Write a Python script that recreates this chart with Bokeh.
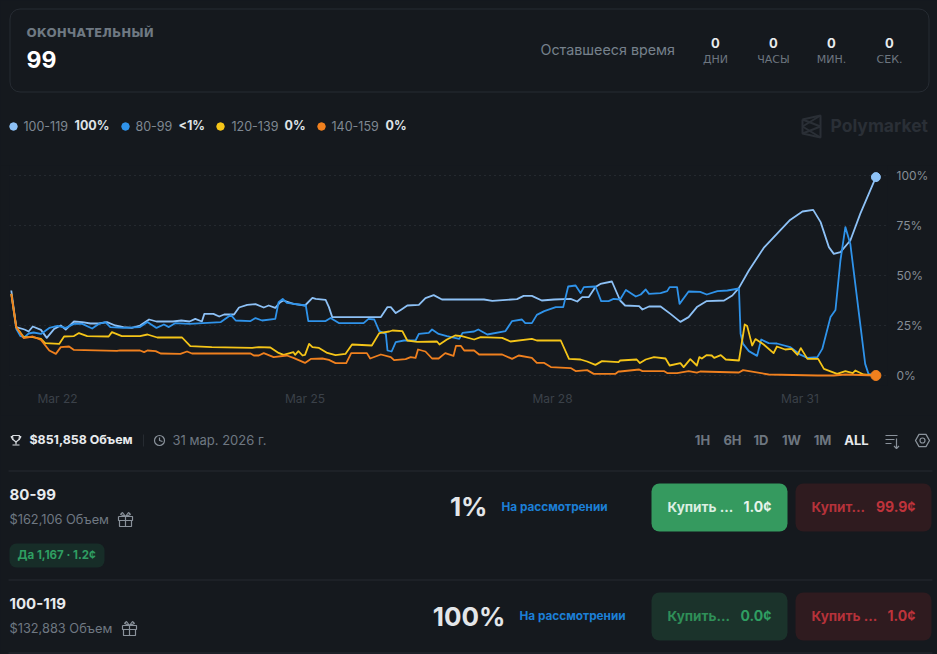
from bokeh.embed import file_html
from bokeh.resources import INLINE
from bokeh.plotting import figure
from bokeh.core.properties import value
from bokeh.models import Range1d, FixedTicker, DatetimeTickFormatter, LinearAxis, Grid, Column
import pandas as pd

# ---- data: fractional day of March 2026 / probability in % ----
x_100 = [21.44,21.50,21.60,21.65,21.70,21.80,21.87,21.96,22.04,22.10,22.20,22.30,22.40,22.50,22.60,22.70,22.80,22.90,23.00,23.11,23.20,23.40,23.50,23.60,23.67,23.75,23.78,23.89,23.96,24.02,24.14,24.20,24.30,24.40,24.50,24.56,24.64,24.70,24.74,24.86,25.00,25.09,
         25.13,25.25,25.29,25.33,25.59,25.92,26.00,26.04,26.10,26.16,26.24,26.38,26.46,26.56,26.66,27.17,27.27,27.57,27.65,27.75,27.87,28.02,28.22,28.30,28.36,28.44,28.52,28.58,28.72,28.82,
         28.88,29.05,29.09,29.17,29.31,29.43,29.55,29.65,29.75,29.87,30.08,30.18,30.26,30.38,30.56,30.72,30.88,31.03,31.16,31.25,31.35,31.41,31.49,31.61,31.73,31.92]
y_100 = [42.5,24.2,23,22,24.5,22.8,18.8,23.3,25,23,27,26.7,26,26,26.7,25,24.2,23.8,25,28,27,27,27.5,27,28.3,27,30.8,30.8,29.5,30.5,30.5,34,35.3,35.7,34,35,33.8,36.7,37.5,35.8,35,38.8,
         38.3,37.8,34.2,29.2,29.2,29.2,34.2,34.2,31.2,32.8,35,35.3,38.7,40.2,38,38,37.3,38.2,39.8,39.8,37.5,38,38.3,37,39.2,39.2,44.2,45.8,47,37.5,
         35,34.7,33,34.5,34.5,30.8,26.8,29.2,34.2,37.2,37.5,40,43.8,52.5,63.8,70.8,77.8,82,82.8,76.7,64.2,60.8,61.7,67.5,80.8,99.2]

x_80 = [21.44,21.50,21.55,21.60,21.65,21.71,21.80,21.90,22.00,22.10,22.20,22.30,22.42,22.50,22.58,22.64,22.80,23.00,23.09,23.20,23.29,23.35,23.43,23.60,23.98,24.10,24.16,24.34,24.40,24.48,24.64,24.68,24.73,24.78,25.01,25.04,
        25.25,25.31,25.41,25.71,25.77,25.84,25.90,25.98,26.00,26.05,26.10,26.20,26.34,26.38,26.50,26.54,26.62,26.72,26.87,26.91,27.05,27.10,27.21,27.43,27.51,27.63,27.67,27.75,27.81,27.90,28.04,28.13,28.19,28.28,28.34,28.38,28.52,28.59,28.68,28.74,28.82,28.89,
        29.01,29.07,29.13,29.17,29.31,29.39,29.42,29.51,29.54,29.65,29.79,29.87,30.00,30.12,30.26,30.28,30.31,30.38,30.48,30.53,30.62,30.72,30.88,31.01,31.09,31.21,31.27,31.37,31.43,31.49,31.55,31.61,31.67,31.73,31.79,31.83,31.92]
y_80 = [40.8,23.3,19.7,19.2,21,21.5,20.8,23.8,24.8,23.8,25.8,25.8,23.5,25.8,26.7,24.2,23.8,24.2,26.7,23.8,25.5,24.2,26.2,25.8,26.7,30.3,27.5,27.2,28.7,27.5,28.3,36.7,38.3,36.3,35,27.2,
        27.2,28.8,26.2,26.2,28.3,28,22.2,20.8,12.5,12,16.7,17.5,17.5,20.8,21.3,23,20.8,19.7,18.3,21.3,22,23,20.5,22.2,27.2,28,26.2,26.2,30.3,32.2,34.2,34.2,44.5,45,41.2,44.2,44.5,37.2,37.2,38.3,38,42.8,
        39.5,40.5,43,40.8,41.2,42.2,44.2,44.2,35.8,42,41.8,40.5,42.2,42.5,43.5,20.8,15.8,12.2,9.8,18,16.2,16,14.2,10.3,8.8,9.2,13.3,29.2,32.8,57.5,74.2,65.8,45.8,25.8,5.8,0.8,0]

x_120 = [21.44,21.50,21.59,21.70,21.80,21.85,22.02,22.08,22.20,22.26,22.36,22.62,22.66,22.78,23.00,23.09,23.21,23.51,23.61,23.87,24.36,24.44,24.58,24.68,24.74,24.86,24.88,24.92,24.97,25.00,25.05,25.09,
         25.17,25.27,25.37,25.49,25.57,25.81,25.90,26.02,26.06,26.18,26.24,26.36,26.60,26.63,26.72,26.82,26.90,27.05,27.13,27.39,27.49,27.75,27.81,28.10,28.20,28.34,28.42,28.52,28.60,28.80,
         28.82,29.02,29.06,29.13,29.23,29.37,29.42,29.55,29.59,29.67,29.75,29.78,29.81,29.87,29.93,29.96,30.04,30.10,30.26,30.33,30.36,30.42,30.46,30.56,30.68,30.72,30.82,30.90,30.97,31.01,31.09,31.22,31.29,31.45,31.55,31.64,31.67,31.77,31.92]
y_120 = [40.8,24.2,19.2,19.2,18.3,16.2,15.8,19.5,19.7,21.2,19.7,19.5,21.7,19.7,19.7,20.5,19,19,14.7,14.2,13.8,14.2,14,11.3,10.3,11.7,10.3,12.2,10,10.3,15.8,14.2,
         13.8,11.3,10.2,10.8,15.5,15,21.2,22,22.5,22.2,17.5,16.8,17,15.5,18,20,19.7,18,19.2,18.8,17,18.3,17.5,17.5,8.3,8,7,5.3,7.2,6.7,
         7.5,8,6.2,8,9.2,8.5,5,6.2,4.2,8.2,5,9.2,8.5,10.2,10,8.8,10.2,8,7.5,25.5,24.7,15,18.2,15.5,11.2,14.5,13,13.3,10.3,13.7,8.3,8.3,3.3,0.8,2.2,1.2,2.5,0.5,0]

x_140 = [21.44,21.50,21.59,21.70,21.80,21.90,21.98,22.04,22.14,22.20,22.72,22.76,23.00,23.05,23.09,23.19,23.25,23.49,23.57,23.63,24.34,24.38,24.44,24.50,24.62,24.78,24.86,25.00,25.07,
         25.21,25.29,25.37,25.50,25.56,25.75,25.79,25.92,26.04,26.08,26.22,26.28,26.34,26.37,26.46,26.54,26.62,26.70,26.80,26.83,26.89,26.93,27.05,27.11,27.39,27.51,27.59,27.75,27.81,27.90,27.98,28.22,28.28,28.42,28.50,28.76,28.80,
         28.82,29.05,29.09,29.35,29.39,29.51,29.65,29.75,29.79,30.26,30.31,30.62,31.21,31.41,31.55,31.92]
y_140 = [40.8,24.2,18.7,19.5,17.8,12.5,10.8,14.2,14.5,12.8,12.3,12.6,12.5,11.7,12.5,12.2,11,10.8,12,11,11,10,10,11.2,9.2,10,8.8,6.3,8.3,
         8.5,7.8,6.2,6.2,11.2,11.2,8.5,10.5,9.2,7.7,8.2,9.2,8.8,13,12,8.5,8.5,11.2,9.8,14.8,14.8,12.5,12.5,10.5,10.5,8.3,10,8.8,6.3,6.3,4.2,3.7,2.2,2.7,0.8,0.8,2,
         2,3,2.2,2.2,1.2,1.2,2.2,1.4,2,1.5,2.7,0.5,0,0,0.5,0]

series_names = ["100-119", "80-99", "120-139", "140-159"]
series_pct = ["100%", "<1%", "0%", "0%"]
series_colors = ["#8dc1f6", "#2f93ea", "#f5c518", "#f0801e"]
tick_days = ["2026-03-22", "2026-03-25", "2026-03-28", "2026-03-31"]
y_ticks = [0, 25, 50, 75, 100]
y_labels = {0: "0%", 25: "25%", 50: "50%", 75: "75%", 100: "100%"}

BG = "#15191e"
FONT = "Inter"
MARCH_0 = pd.Timestamp("2026-03-01")


def to_ms(days):
    return [(MARCH_0 + pd.Timedelta(days=d - 1)).value / 1e6 for d in days]


def panel(top, bottom):
    f = figure(width=937, height=bottom - top, x_range=Range1d(0, 937), y_range=Range1d(bottom, top),
               x_axis_type=None, y_axis_type=None, toolbar_location=None, output_backend="svg",
               min_border=0, background_fill_color=BG, border_fill_color=BG, outline_line_color=None)
    f.grid.visible = False
    return f


def txt(f, x, y, s, size, color, bold=False, align="left", font=FONT):
    f.text(x=[x], y=[y - 0.8], text=[s], text_font=value(font), text_font_size=f"{size}px",
           text_font_style="bold" if bold else "normal", text_color=color,
           text_align=align, text_baseline="middle")


def box(f, l, r, t, b, fill=None, line=None, radius=8):
    f.quad(left=[l], right=[r], top=[t], bottom=[b], fill_color=fill, line_color=line,
           border_radius=radius)


# ---------- header ----------
h = panel(0, 165)
box(h, 9.5, 928.5, 8.5, 91.5, None, "#272c33", 10)
txt(h, 26, 33, "ОКОНЧАТЕЛЬНЫЙ", 12, "#6f7983", True, font="DejaVu Sans")
txt(h, 26, 60, "99", 23, "#ffffff", True)
txt(h, 540, 50, "Оставшееся время", 14.3, "#76818c")
for cx, lab in zip([715, 773, 831, 889], ["ДНИ", "ЧАСЫ", "МИН.", "СЕК."]):
    txt(h, cx, 43, "0", 13, "#e8ebee", True, "center")
    txt(h, cx, 60, lab, 11, "#6d7680", False, "center", font="DejaVu Sans")
for dx, tx, vx, name, pct, col in zip([13, 125, 220, 321], [23, 135, 231, 331], [74, 178, 284, 385],
                                       series_names, series_pct, series_colors):
    h.scatter(x=[dx], y=[126], size=7.5, color=col)
    txt(h, tx, 126, name, 12.5, "#7f8892")
    txt(h, vx, 126, pct, 12.5, "#dfe3e7", True)
# Polymarket mark
wm = "#2a2f36"
h.multi_line(xs=[[802, 820, 820, 802, 802], [802, 820, 802], [820, 802, 820]],
             ys=[[119, 115, 137, 133, 119], [119, 126, 133], [115, 126, 137]], line_color=wm, line_width=2)
txt(h, 830, 126, "Polymarket", 17.5, wm, True)

# ---------- chart ----------
DAY = 82.5
x0 = (pd.Timestamp("2026-03-22") - pd.Timedelta(days=48 / DAY)).value / 1e6
x1 = x0 + (878 / DAY) * 86400000
c = figure(width=937, height=250, x_axis_type="datetime", x_range=Range1d(x0, x1), y_range=Range1d(-5, 105),
           toolbar_location=None, output_backend="svg", background_fill_color=BG, border_fill_color=BG,
           outline_line_color=None, min_border_left=9, min_border_right=50, min_border_top=0, min_border_bottom=30,
           y_axis_location=None)
c.xgrid.visible = False
c.ygrid.visible = False
ax = c.xaxis[0]
ax.ticker = FixedTicker(ticks=[pd.Timestamp(t).value / 1e6 for t in tick_days])
ax.formatter = DatetimeTickFormatter(days="%b %d", months="%b %d", hours="%b %d")
ax.axis_line_color = None
ax.major_tick_line_color = None
ax.minor_tick_line_color = None
ax.major_tick_out = 0
ax.major_tick_in = 0
ax.minor_tick_out = 0
ax.major_label_text_color = "#3b4149"
ax.major_label_text_font = FONT
ax.major_label_text_font_size = "12px"
ax.major_label_standoff = 5

ya = LinearAxis(ticker=FixedTicker(ticks=y_ticks), major_label_overrides=y_labels)
ya.axis_line_color = None
ya.major_tick_line_color = None
ya.minor_tick_line_color = None
ya.major_tick_out = 0
ya.major_tick_in = 0
ya.minor_tick_out = 0
ya.major_label_text_color = "#858d96"
ya.major_label_text_font = FONT
ya.major_label_text_font_size = "12px"
ya.major_label_standoff = 9
c.add_layout(ya, "right")
c.add_layout(Grid(dimension=1, ticker=ya.ticker, grid_line_color="#343a41", grid_line_dash=[1, 4], grid_line_width=1))

for xs, ys, col in zip([x_100, x_80, x_120, x_140], [y_100, y_80, y_120, y_140], series_colors):
    c.line(to_ms(xs), ys, line_color=col, line_width=1.8, line_join="round")
c.scatter(to_ms(x_100[-1:]), y_100[-1:], size=9, color=series_colors[0])
c.scatter(to_ms(x_140[-1:]), y_140[-1:], size=10, color=series_colors[3])

# ---------- footer ----------
g = panel(415, 654)
ic = "#8a929b"
# trophy
g.multi_line(xs=[[12, 19, 18.5, 15.5, 12.5, 12], [15.5, 15.5], [12, 19], [12, 10.5, 12.5], [19, 20.5, 18.5]],
             ys=[[435, 435, 439, 441.5, 439, 435], [441.5, 444], [444.5, 444.5], [436, 436, 439.5], [436, 436, 439.5]],
             line_color="#d8dce0", line_width=1.2)
txt(g, 29, 439.5, "$851,858 Объем", 12.4, "#e8ebee", True)
g.line([143, 143], [434, 446], line_color="#262b31")
g.circle(x=[159], y=[440], radius=5, fill_color=None, line_color=ic, line_width=1.2)
g.line([159, 159, 162], [437, 440, 441], line_color=ic, line_width=1.2)
txt(g, 172, 440, "31 мар. 2026 г.", 13, "#6f7882")
for x, lab, col in zip([702, 732, 760.5, 791, 822, 856], ["1H", "6H", "1D", "1W", "1M", "ALL"],
                       ["#6d7680"] * 5 + ["#e6e9ec"]):
    txt(g, x, 440, lab, 13, col, True, "center")
# sort icon
g.multi_line(xs=[[885, 897], [885, 894], [885, 891], [896, 896], [893.5, 896, 898.5]],
             ys=[[435, 435], [439, 439], [443, 443], [438, 448], [445.5, 448, 445.5]], line_color=ic, line_width=1.2)
# gear icon
g.scatter(x=[922], y=[440], size=14, marker="hex", fill_color=None, line_color=ic, line_width=1.3)
g.circle(x=[922], y=[440], radius=2.5, fill_color=None, line_color=ic, line_width=1.2)
for y in [470.5, 579.5, 652.5]:
    g.line([8, 932], [y, y], line_color="#262b31", line_width=1)


def gift(f, cx, cy):
    f.multi_line(xs=[[cx - 7, cx + 7, cx + 7, cx - 7, cx - 7], [cx - 6, cx - 6, cx + 6, cx + 6], [cx, cx],
                     [cx, cx - 3, cx - 5, cx], [cx, cx + 3, cx + 5, cx]],
                 ys=[[cy - 3, cy - 3, cy + 1, cy + 1, cy - 3], [cy + 1, cy + 7, cy + 7, cy + 1], [cy - 3, cy + 7],
                     [cy - 3, cy - 7, cy - 5, cy - 3], [cy - 3, cy - 7, cy - 5, cy - 3]],
                 line_color=ic, line_width=1.2)


txt(g, 9, 495, "80-99", 15, "#e8ebee", True)
txt(g, 9, 519.5, "$162,106 Объем", 12.8, "#6f7882")
gift(g, 125, 519)
box(g, 9, 104, 543, 567, "#172d28", None, 7)
txt(g, 17, 555, "Да 1,167 · 1.2¢", 11.5, "#2f9e62", True)
txt(g, 487, 507, "1%", 26, "#e3e6e9", True, "right")
txt(g, 501, 507, "На рассмотрении", 11.8, "#1c7fd6", True)
box(g, 651, 787, 483, 531, "#359a5f")
box(g, 795, 931, 483, 531, "#2f1b1f")
txt(g, 667, 507, "Купить ...", 13.5, "#dcefe2", True)
txt(g, 771, 507, "1.0¢", 14, "#e6f3ea", True, "right")
txt(g, 811, 507, "Купит...", 13.5, "#b5323a", True)
txt(g, 915, 507, "99.9¢", 14, "#bf333b", True, "right")

txt(g, 9, 604, "100-119", 15, "#e8ebee", True)
txt(g, 9, 628.5, "$132,883 Объем", 12.8, "#6f7882")
gift(g, 129, 628)
txt(g, 505, 617, "100%", 26, "#e3e6e9", True, "right")
txt(g, 519, 616, "На рассмотрении", 11.8, "#1c7fd6", True)
box(g, 651, 787, 592, 640, "#1b332b")
box(g, 795, 931, 592, 640, "#2f1b1f")
txt(g, 667, 616, "Купить...", 13.5, "#2f8f58", True)
txt(g, 771, 616, "0.0¢", 14, "#2f9e62", True, "right")
txt(g, 811, 616, "Купить ...", 13.5, "#b5323a", True)
txt(g, 915, 616, "1.0¢", 14, "#bf333b", True, "right")

page = Column(children=[Column(children=[h]), Column(children=[c]), Column(children=[g])], spacing=0)
html = file_html(page, INLINE)
html = html.replace("<head>", f"<head><style>html,body{{margin:0;padding:0;background:{BG};overflow:hidden}}</style>", 1)
open("out.html", "w").write(html)
